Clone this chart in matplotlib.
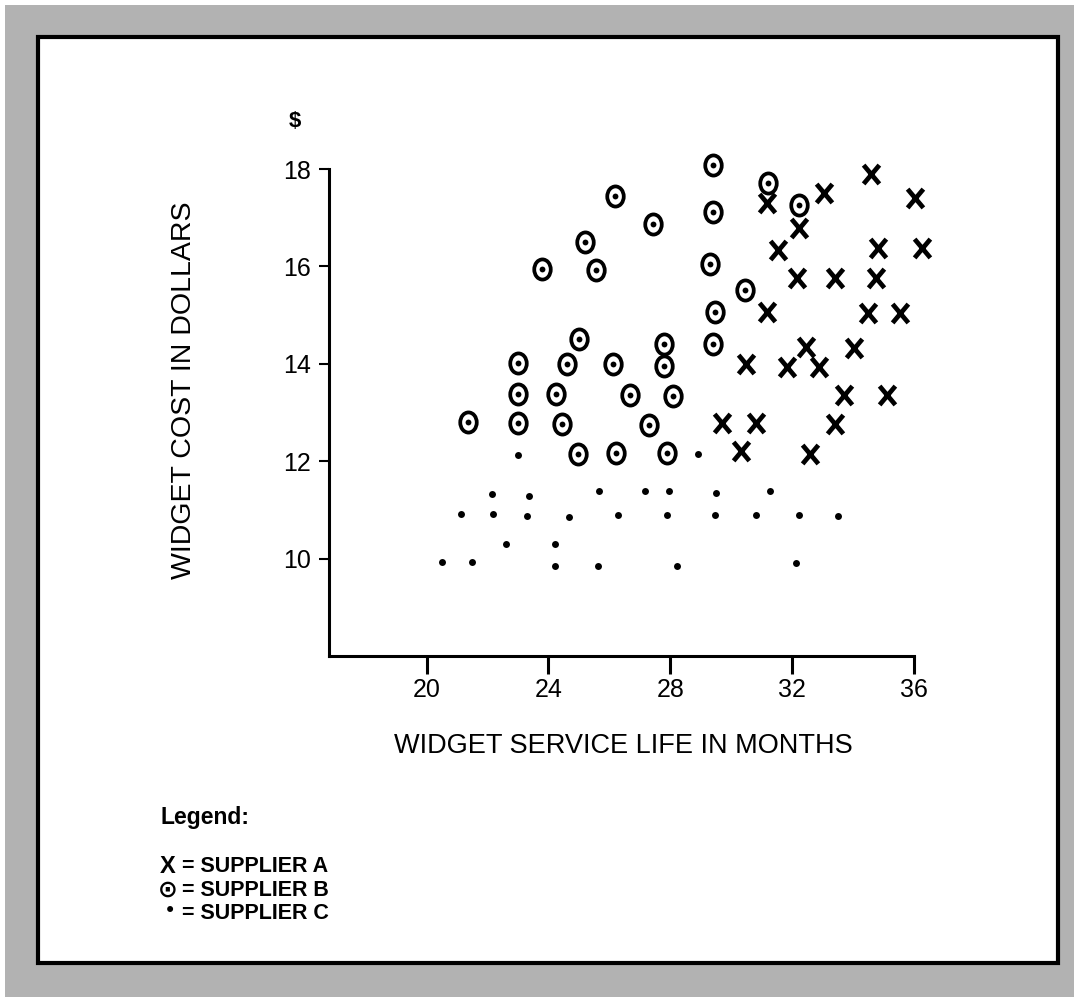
import matplotlib
matplotlib.use('Agg')
import matplotlib.pyplot as plt
from matplotlib.path import Path
from matplotlib.patches import Rectangle
import numpy as np

plt.rcParams['font.family'] = ['Liberation Sans', 'DejaVu Sans']

# ---- data ----
a_life = [34.58, 33.06, 31.17, 36.03, 32.24, 31.53, 34.83, 36.25, 32.15, 33.41,
          34.75, 31.17, 34.48, 35.54, 32.45, 34.04, 30.48, 31.82, 32.88, 33.71,
          35.12, 29.71, 30.80, 33.41, 30.32, 32.59]
a_cost = [17.89, 17.50, 17.30, 17.40, 16.78, 16.34, 16.37, 16.37, 15.77, 15.77,
          15.77, 15.06, 15.05, 15.05, 14.35, 14.32, 14.00, 13.94, 13.94, 13.36,
          13.36, 12.78, 12.78, 12.76, 12.20, 12.15]

b_life = [26.19, 25.20, 23.78, 25.56, 25.00, 23.01, 24.60, 26.13, 27.42, 29.39,
          29.39, 31.20, 32.22, 29.30, 30.45, 29.47, 29.39, 27.80, 27.80, 26.68,
          28.08, 27.30, 26.22, 27.88, 23.01, 24.25, 21.37, 23.01, 24.44, 24.98]
b_cost = [17.45, 16.51, 15.95, 15.93, 14.50, 14.01, 14.00, 14.00, 16.88, 18.08,
          17.12, 17.72, 17.26, 16.04, 15.52, 15.06, 14.41, 14.41, 13.95, 13.36,
          13.34, 12.74, 12.16, 12.16, 13.39, 13.38, 12.81, 12.78, 12.76, 12.15]

c_life = [28.90, 27.17, 27.97, 29.50, 31.27, 26.27, 27.88, 29.47, 30.81, 32.24,
          33.50, 28.21, 32.13, 22.99, 22.16, 23.36, 25.66, 21.12, 22.17, 23.29,
          24.68, 22.61, 24.22, 20.50, 21.48, 24.22, 25.64]
c_cost = [12.15, 11.39, 11.39, 11.34, 11.39, 10.90, 10.90, 10.90, 10.90, 10.90,
          10.88, 9.85, 9.90, 12.13, 11.32, 11.29, 11.39, 10.92, 10.92, 10.88,
          10.86, 10.31, 10.29, 9.92, 9.92, 9.85, 9.85]

x_ticks = [20, 24, 28, 32, 36]
y_ticks = [10, 12, 14, 16, 18]

x_title = 'WIDGET SERVICE LIFE IN MONTHS'
y_title = 'WIDGET COST IN DOLLARS'
legend_title = 'Legend:'
legend_rows = [('X', '= SUPPLIER A'), ('\u2299', '= SUPPLIER B'), ('\u2022', '= SUPPLIER C')]

# ---- figure ----
W, H = 1074, 997
fig = plt.figure(figsize=(W / 100, H / 100), dpi=100)


def fx(px):
    return px / W


def fy(py):
    return 1 - py / H


fig.patches.append(Rectangle((fx(5), 0), 1 - fx(5), fy(5), transform=fig.transFigure,
                             facecolor='#b2b2b2', edgecolor='none', zorder=-3))
fig.patches.append(Rectangle((fx(38), fy(963)), fx(1058) - fx(38), fy(37) - fy(963),
                             transform=fig.transFigure, facecolor='white',
                             edgecolor='black', lw=3, zorder=-2))

ax = fig.add_axes([fx(329), fy(656), fx(944.5) - fx(329), fy(139.8) - fy(656)])
ax.set_zorder(2)
ax.set_xlim(16.8, 37.0)
ax.set_ylim(8, 18.6)
ax.patch.set_visible(False)
for s in ('top', 'right'):
    ax.spines[s].set_visible(False)
ax.spines['left'].set_bounds(8, 18)
ax.spines['bottom'].set_bounds(16.8, 36)
for s in ('left', 'bottom'):
    ax.spines[s].set_linewidth(2.2)

ax.set_xticks(x_ticks)
ax.set_yticks(y_ticks)
ax.tick_params(axis='x', direction='out', length=13, width=2.2, pad=2.5, labelsize=18)
ax.tick_params(axis='y', direction='out', length=7.5, width=1.5, pad=5.5, labelsize=18)

# markers
x_path = Path([(-0.42, -0.5), (0.42, 0.5), (-0.42, 0.5), (0.42, -0.5)],
              [Path.MOVETO, Path.LINETO, Path.MOVETO, Path.LINETO])
uc = Path.unit_circle()
ell_path = Path(uc.vertices * np.array([0.82, 1.0]), uc.codes)

ax.plot(a_life, a_cost, ls='none', marker=x_path, ms=13.5, mew=3.4,
        mec='black', mfc='none', clip_on=False)
ax.plot(b_life, b_cost, ls='none', marker=ell_path, ms=14.5, mew=2.7,
        mec='black', mfc='white', clip_on=False)
ax.plot(b_life, b_cost, ls='none', marker='o', ms=4.2, mew=0,
        mfc='black', clip_on=False)
ax.plot(c_life, c_cost, ls='none', marker='o', ms=5.0, mew=0,
        mfc='black', clip_on=False)

# texts
fig.text(fx(295), fy(121), '$', ha='center', va='center', fontsize=16, fontweight='bold')
fig.text(fx(623), fy(746), x_title, ha='center', va='center', fontsize=19.5)
fig.text(fx(184), fy(390), y_title, ha='center', va='center', rotation=90, fontsize=20.5)

fig.text(fx(160), fy(817), legend_title, ha='left', va='center', fontsize=16.5, fontweight='bold')
row_y = [866, 890, 913]
for (sym, lab), yy in zip(legend_rows, row_y):
    if sym == 'X':
        fig.text(fx(168), fy(yy), sym, ha='center', va='center', fontsize=17, fontweight='bold')
    elif sym == '\u2299':
        fig.text(fx(168), fy(yy), sym, ha='center', va='center', fontsize=17,
                 fontweight='bold', family=['DejaVu Sans'])
    else:
        fig.text(fx(170), fy(yy - 2), sym, ha='center', va='center', fontsize=15,
                 family=['DejaVu Sans'])
    fig.text(fx(182), fy(yy), lab, ha='left', va='center', fontsize=15.5, fontweight='bold')

fig.savefig('out.png', dpi=100)
